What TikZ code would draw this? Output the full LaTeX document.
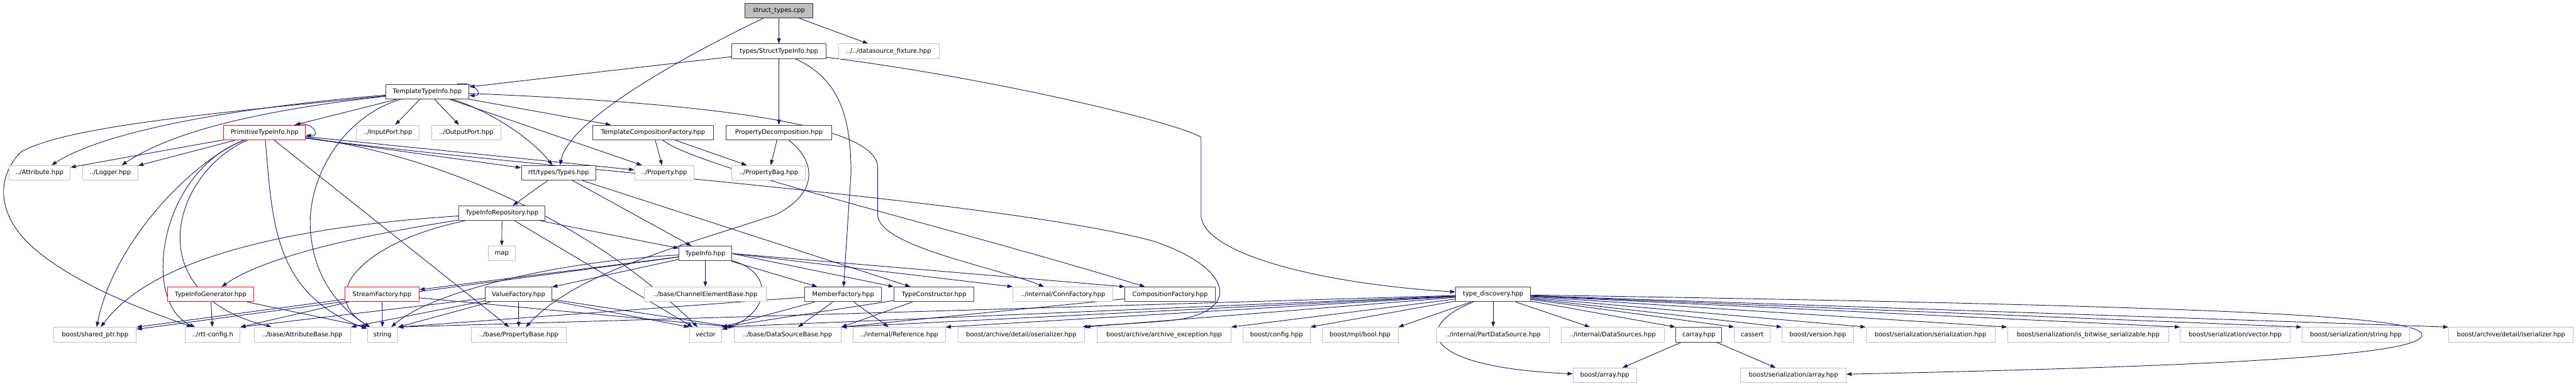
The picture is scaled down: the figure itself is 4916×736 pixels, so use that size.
\documentclass[tikz,border=0pt]{standalone}
\usepackage{fontspec}
\setmainfont{DejaVu Sans}
\usepackage{tikz}
\usetikzlibrary{arrows.meta,backgrounds}
\definecolor{edgeblue}{HTML}{191970}
\definecolor{extgray}{HTML}{BFBFBF}

\begin{document}
\begin{tikzpicture}[x=1pt, y=-1pt, >={Triangle[length=10pt,width=7pt]},
    file/.style={rectangle, draw=black!75, fill=white, line width=1.2pt, minimum height=28pt, inner xsep=3pt, inner ysep=0pt, font=\fontsize{12}{14}\selectfont},
    extfile/.style={file, draw=extgray},
    cutfile/.style={file, draw=red},
    mainfile/.style={file, fill=extgray, draw=black!80, minimum height=27pt},
    dep/.style={->, draw=edgeblue, line width=1.1pt}]

    \useasboundingbox (0,0) rectangle (4916,736);

    \node [mainfile, minimum width=129pt] (root) at (1486.5,20.5) {struct\_types.cpp};

    \node [file, minimum width=179pt] (sti) at (1486.5,98) {types/StructTypeInfo.hpp};
    \node [extfile, minimum width=192pt] (dsfix) at (1696,98) {../../datasource\_fixture.hpp};

    \node [file, minimum width=159pt] (tti) at (815.5,175) {TemplateTypeInfo.hpp};

    \node [cutfile, minimum width=156pt] (pti) at (505,253) {PrimitiveTypeInfo.hpp};
    \node [extfile, minimum width=120pt] (inport) at (740,253) {../InputPort.hpp};
    \node [extfile, minimum width=132pt] (outport) at (890,253) {../OutputPort.hpp};
    \node [file, minimum width=231pt] (tcf) at (1246.5,253) {TemplateCompositionFactory.hpp};
    \node [file, minimum width=201pt] (pdec) at (1486.5,253) {PropertyDecomposition.hpp};

    \node [extfile, minimum width=117pt] (attr) at (75.5,330) {../Attribute.hpp};
    \node [extfile, minimum width=105pt] (logger) at (210.5,330) {../Logger.hpp};
    \node [file, minimum width=142pt] (types) at (1066,330) {rtt/types/Types.hpp};
    \node [extfile, minimum width=113pt] (prop) at (1267.5,330) {../Property.hpp};
    \node [extfile, minimum width=140pt] (propbag) at (1467,330) {../PropertyBag.hpp};

    \node [file, minimum width=164pt] (tirepo) at (958,407) {TypeInfoRepository.hpp};

    \node [extfile, minimum width=51pt] (map) at (957.5,484) {map};
    \node [file, minimum width=100pt] (tinfo) at (1346,484) {TypeInfo.hpp};

    \node [cutfile, minimum width=164pt] (tigen) at (402,562) {TypeInfoGenerator.hpp};
    \node [cutfile, minimum width=142pt] (sfac) at (729,562) {StreamFactory.hpp};
    \node [file, minimum width=127pt] (vfac) at (989.5,562) {ValueFactory.hpp};
    \node [extfile, minimum width=233pt] (cebase) at (1346,562) {../base/ChannelElementBase.hpp};
    \node [file, minimum width=146pt] (mfac) at (1609,562) {MemberFactory.hpp};
    \node [file, minimum width=153pt] (tcons) at (1782.5,562) {TypeConstructor.hpp};
    \node [extfile, minimum width=191pt] (connf) at (2028.5,562) {../internal/ConnFactory.hpp};
    \node [file, minimum width=172pt] (compf) at (2233,562) {CompositionFactory.hpp};
    \node [file, minimum width=143pt] (tdisc) at (2849.5,562) {type\_discovery.hpp};

    \node [extfile, minimum width=157pt] (sptr) at (181.5,639) {boost/shared\_ptr.hpp};
    \node [extfile, minimum width=104pt] (rttcfg) at (406,639) {../rtt-config.h};
    \node [extfile, minimum width=184pt] (attrbase) at (577,639) {../base/AttributeBase.hpp};
    \node [extfile, minimum width=58pt] (str) at (730,639) {string};
    \node [extfile, minimum width=182pt] (propbase) at (990,639) {../base/PropertyBase.hpp};
    \node [extfile, minimum width=61pt] (vec) at (1346.5,639) {vector};
    \node [extfile, minimum width=204pt] (dsbase) at (1503,639) {../base/DataSourceBase.hpp};
    \node [extfile, minimum width=176pt] (ref) at (1716,639) {../internal/Reference.hpp};
    \node [extfile, minimum width=242pt] (oser) at (1949,639) {boost/archive/detail/oserializer.hpp};
    \node [extfile, minimum width=255pt] (archexc) at (2221.5,639) {boost/archive/archive\_exception.hpp};
    \node [extfile, minimum width=128pt] (bconf) at (2436,639) {boost/config.hpp};
    \node [extfile, minimum width=145pt] (mplbool) at (2595.5,639) {boost/mpl/bool.hpp};
    \node [extfile, minimum width=215pt] (partds) at (2849.5,639) {../internal/PartDataSource.hpp};
    \node [extfile, minimum width=197pt] (dsrcs) at (3077.5,639) {../internal/DataSources.hpp};
    \node [file, minimum width=88pt] (carray) at (3242,639) {carray.hpp};
    \node [extfile, minimum width=68pt] (cassert) at (3344,639) {cassert};
    \node [extfile, minimum width=136pt] (bver) at (3469,639) {boost/version.hpp};
    \node [extfile, minimum width=246pt] (sser) at (3684,639) {boost/serialization/serialization.hpp};
    \node [extfile, minimum width=308pt] (sbitwise) at (3985,639) {boost/serialization/is\_bitwise\_serializable.hpp};
    \node [extfile, minimum width=209pt] (svec) at (4265.5,639) {boost/serialization/vector.hpp};
    \node [extfile, minimum width=206pt] (sstr) at (4496,639) {boost/serialization/string.hpp};
    \node [extfile, minimum width=238pt] (iser) at (4792,639) {boost/archive/detail/iserializer.hpp};

    \node [extfile, minimum width=121pt] (barr) at (3062.5,716.5) {boost/array.hpp};
    \node [extfile, minimum width=201pt] (sarr) at (3422.5,716.5) {boost/serialization/array.hpp};

    \begin{scope}[on background layer]
    \draw [dep] (root) -- (sti);
    \draw [dep] (root) -- (dsfix);
    \draw [dep] (root) .. controls (1300,110) and (1085,230) .. (types);

    \draw [dep] (sti) -- (tti);
    \draw [dep] (sti) -- (pdec);
    \draw [dep] (sti) .. controls (1600,150) and (1624,220) .. (1624,330) -- (mfac);
    \draw [dep] (sti) .. controls (1900,150) and (2250,235) .. (2292,262) -- (2292,410) .. controls (2292,480) and (2500,540) .. (tdisc);

    \draw [dep] (tti) -- (pti);
    \draw [dep] (tti) -- (inport);
    \draw [dep] (tti) -- (outport);
    \draw [dep] (tti) -- (tcf);
    \draw [dep] (tti) -- (prop);
    \draw [dep] (tti) .. controls (930,210) and (1010,260) .. (types);
    \draw [dep] (tti) .. controls (450,205) and (200,250) .. (attr);
    \draw [dep] (tti) .. controls (500,210) and (330,250) .. (logger);
    \draw [dep] (tti) .. controls (420,215) and (130,240) .. (40,290) .. controls (0,330) and (-15,400) .. (60,470) .. controls (150,550) and (300,600) .. (rttcfg);
    \draw [dep] (tti) .. controls (660,220) and (590,330) .. (592,430) .. controls (595,530) and (650,590) .. (str);
    \draw [dep] (tti) .. controls (1300,195) and (1675,230) .. (1675,320) -- (1675,410) .. controls (1675,470) and (1900,510) .. (connf);
    \draw [dep] ([xshift=-23pt]tti.north east) .. controls +(35,-6) and +(28,2) .. ([yshift=-7pt]tti.east);

    \draw [dep] (pti) -- (attr);
    \draw [dep] (pti) -- (logger);
    \draw [dep] (pti) -- (types);
    \draw [dep] (pti) -- (prop);
    \draw [dep] (pti) -- (propbase);
    \draw [dep] (pti) .. controls (800,290) and (1100,400) .. (vec);
    \draw [dep] (pti) .. controls (380,300) and (220,450) .. (sptr);
    \draw [dep] (pti) .. controls (300,330) and (270,580) .. (rttcfg);
    \draw [dep] (pti) .. controls (330,330) and (260,560) .. (attrbase);
    \draw [dep] (pti) .. controls (520,420) and (520,560) .. (str);
    \draw [dep] (pti) .. controls (1000,320) and (1900,380) .. (2200,460) .. controls (2350,510) and (2370,590) .. (2250,610) .. controls (2180,618) and (2100,620) .. (oser);
    \draw [dep] ([xshift=57pt]pti.north) .. controls +(35,-10) and +(30,4) .. ([yshift=-5pt]pti.east);

    \draw [dep] (tcf) -- (prop);
    \draw [dep] (tcf) -- (propbag);
    \draw [dep] (tcf) .. controls (1330,320) and (1800,430) .. (compf);

    \draw [dep] (pdec) -- (propbag);
    \draw [dep] (pdec) .. controls (1560,310) and (1560,370) .. (1480,410) .. controls (1300,470) and (1100,520) .. (propbase);

    \draw [dep] (types) -- (tirepo);
    \draw [dep] (types) -- (tinfo);
    \draw [dep] (types) -- (tcons);

    \draw [dep] (tirepo) -- (map);
    \draw [dep] (tirepo) -- (tinfo);
    \draw [dep] (tirepo) -- (vec);
    \draw [dep] (tirepo) .. controls (750,440) and (520,480) .. (tigen);
    \draw [dep] (tirepo) .. controls (600,430) and (300,480) .. (sptr);
    \draw [dep] (tirepo) .. controls (700,460) and (600,560) .. (str);

    \draw [dep] (tinfo) -- (sfac);
    \draw [dep] (tinfo) -- (vfac);
    \draw [dep] (tinfo) -- (cebase);
    \draw [dep] (tinfo) -- (mfac);
    \draw [dep] (tinfo.east) -- (tcons.north west);
    \draw [dep] (tinfo.east) -- (connf.north west);
    \draw [dep] (tinfo.east) -- (compf.north west);
    \draw [dep] (tinfo) -- (sptr);
    \draw [dep] (tinfo) .. controls (1050,500) and (820,560) .. (str);
    \draw [dep] (tinfo) .. controls (1480,520) and (1470,600) .. (vec);

    \draw [dep] (tigen) -- (rttcfg);
    \draw [dep] (tigen) -- (str.north west);

    \draw [dep] (sfac) -- (str);
    \draw [dep] (sfac) -- (sptr.north east);
    \draw [dep] (sfac) -- (rttcfg.north east);
    \draw [dep] (sfac) -- (dsbase.north west);

    \draw [dep] (vfac) -- (propbase);
    \draw [dep] (vfac) -- (attrbase.north east);
    \draw [dep] (vfac) -- (str.north east);
    \draw [dep] (vfac) -- (rttcfg.north east);
    \draw [dep] (vfac) -- (vec.north west);
    \draw [dep] (vfac) -- (dsbase.north west);

    \draw [dep] (mfac) -- (vec.north east);
    \draw [dep] (mfac) -- (dsbase);
    \draw [dep] (mfac) -- (ref);
    \draw [dep] (mfac) -- (str.north east);

    \draw [dep] (tcons) -- (vec.north east);
    \draw [dep] (tcons) -- (dsbase.north east);
    \draw [dep] (compf) -- (dsbase.north east);

    \draw [dep] (tdisc) -- (str.north east);
    \draw [dep] (tdisc) -- (vec.north east);
    \draw [dep] (tdisc) -- (dsbase.north east);
    \draw [dep] (tdisc) -- (ref.north east);
    \draw [dep] (tdisc) -- (oser.north east);
    \draw [dep] (tdisc) -- (archexc.north east);
    \draw [dep] (tdisc) -- (bconf.north east);
    \draw [dep] (tdisc) -- (mplbool.north east);
    \draw [dep] (tdisc) -- (partds);
    \draw [dep] (tdisc) -- (dsrcs);
    \draw [dep] (tdisc) -- (carray.north west);
    \draw [dep] (tdisc) -- (cassert.north west);
    \draw [dep] (tdisc) -- (bver.north west);
    \draw [dep] (tdisc) -- (sser.north west);
    \draw [dep] (tdisc) -- (sbitwise.north west);
    \draw [dep] (tdisc) -- (svec.north west);
    \draw [dep] (tdisc) -- (sstr.north west);
    \draw [dep] (tdisc) -- (iser.north west);
    \draw [dep] (tdisc) .. controls (2700,620) and (2700,700) .. (barr);
    \draw [dep] (tdisc) .. controls (4300,585) and (4625,605) .. (4622,640) .. controls (4620,680) and (4200,700) .. (sarr);

    \draw [dep] (carray) -- (barr);
    \draw [dep] (carray) -- (sarr);
    \end{scope}
\end{tikzpicture}
\end{document}
